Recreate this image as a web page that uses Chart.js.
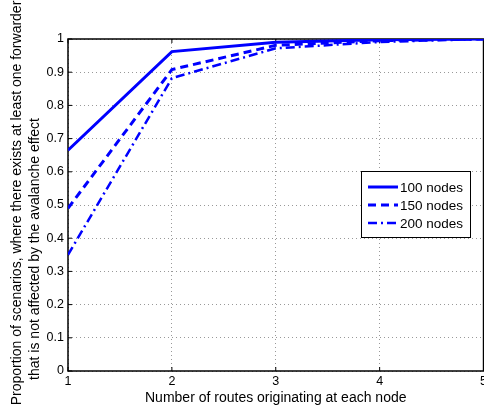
<!DOCTYPE html>
<html>
<head>
<meta charset="utf-8">
<script src="https://cdn.jsdelivr.net/npm/chart.js@4.4.0/dist/chart.umd.min.js"></script>
<style>
    html, body { margin: 0; padding: 0; background: #fff; overflow: hidden; }
    #wrap { width: 490px; height: 405px; }
</style>
</head>
<body>
<div id="wrap"><canvas id="myChart" width="490" height="405"></canvas></div>
<script>
// data
let routes = [1, 2, 3, 4, 5];
let nodes100 = [0.665, 0.962, 0.990, 0.998, 1.0];
let nodes150 = [0.490, 0.908, 0.981, 0.995, 1.0];
let nodes200 = [0.350, 0.882, 0.972, 0.991, 1.0];
let yTicks = [0, 0.1, 0.2, 0.3, 0.4, 0.5, 0.6, 0.7, 0.8, 0.9, 1];
let seriesNames = ['100 nodes', '150 nodes', '200 nodes'];
let yTitle = ['Proportion of scenarios, where there exists at least one forwarder',
              'that is not affected by the avalanche effect'];

const FONT = 'Liberation Sans, Arial, Helvetica, sans-serif';
const BLUE = '#0000ff';

function points(vals) {
    return routes.map((r, i) => ({ x: r, y: vals[i] }));
}

// black box around plot area + inward ticks
const boxPlugin = {
    id: 'box',
    beforeDatasetsDraw(chart) {
        const a = chart.chartArea;
        const c = chart.ctx;
        c.save();
        c.strokeStyle = '#000';
        c.lineWidth = 1.5;
        c.strokeRect(a.left, a.top, a.right - a.left, a.bottom - a.top);
        c.lineWidth = 1;
        const xs = chart.scales.x, ys = chart.scales.y;
        routes.forEach(r => {
            const px = xs.getPixelForValue(r);
            c.beginPath();
            c.moveTo(px, a.bottom); c.lineTo(px, a.bottom - 4);
            c.moveTo(px, a.top); c.lineTo(px, a.top + 4);
            c.stroke();
        });
        yTicks.forEach(v => {
            const py = ys.getPixelForValue(v);
            c.beginPath();
            c.moveTo(a.left, py); c.lineTo(a.left + 4, py);
            c.stroke();
        });
        c.restore();
    }
};

// y title, two lines rotated (overflows the canvas like the original)
const yTitlePlugin = {
    id: 'yTitle',
    afterDraw(chart) {
        const c = chart.ctx;
        c.save();
        c.font = '14px ' + FONT;
        c.fillStyle = '#000';
        c.textAlign = 'center';
        c.textBaseline = 'middle';
        c.translate(17, 203);
        c.rotate(-Math.PI / 2);
        c.fillText(yTitle[0], 0, 0);
        c.restore();
        c.save();
        c.font = '14px ' + FONT;
        c.fillStyle = '#000';
        c.textAlign = 'center';
        c.textBaseline = 'middle';
        c.translate(35, 249);
        c.rotate(-Math.PI / 2);
        c.fillText(yTitle[1], 0, 0);
        c.restore();
    }
};

// matlab-style legend box
const legendBox = {
    id: 'legendBox',
    afterDraw(chart) {
        const c = chart.ctx;
        const x0 = 361, y0 = 171, w = 109, h = 66;
        c.save();
        c.fillStyle = '#fff';
        c.fillRect(x0, y0, w, h);
        c.strokeStyle = '#000';
        c.lineWidth = 1;
        c.strokeRect(x0 + 0.5, y0 + 0.5, w, h);
        c.font = '13.5px ' + FONT;
        c.textBaseline = 'middle';
        c.fillStyle = '#000';
        chart.data.datasets.forEach((ds, i) => {
            const y = y0 + 16 + i * 18;
            c.strokeStyle = ds.borderColor;
            c.lineWidth = ds.borderWidth;
            c.setLineDash(ds.borderDash || []);
            c.beginPath();
            c.moveTo(x0 + 7, y);
            c.lineTo(x0 + 37, y);
            c.stroke();
            c.setLineDash([]);
            c.fillText(ds.label, x0 + 39, y + 1);
        });
        c.restore();
    }
};

var ctx = document.getElementById('myChart').getContext('2d');
var myChart = new Chart(ctx, {
    type: 'line',
    data: {
        datasets: [{
            label: seriesNames[0],
            data: points(nodes100),
            borderColor: BLUE,
            borderWidth: 3,
            pointRadius: 0,
            tension: 0
        }, {
            label: seriesNames[1],
            data: points(nodes150),
            borderColor: BLUE,
            borderWidth: 3,
            borderDash: [8, 5],
            pointRadius: 0,
            tension: 0
        }, {
            label: seriesNames[2],
            data: points(nodes200),
            borderColor: BLUE,
            borderWidth: 2.5,
            borderDash: [9, 4, 2, 4],
            pointRadius: 0,
            tension: 0
        }]
    },
    options: {
        responsive: false,
        animation: false,
        layout: { padding: { top: 39, right: 5, left: 0, bottom: 0 } },
        plugins: {
            legend: { display: false },
            tooltip: { enabled: false }
        },
        scales: {
            x: {
                type: 'linear',
                min: 1,
                max: 5,
                afterFit(s) { s.height = 34; },
                afterBuildTicks(s) { s.ticks = routes.map(v => ({ value: v })); },
                grid: {
                    color: '#999',
                    lineWidth: 1,
                    drawTicks: false
                },
                border: { display: false, dash: [1, 3] },
                ticks: {
                    color: '#000',
                    font: { family: FONT, size: 12.5 },
                    padding: 3,
                    maxRotation: 0
                },
                title: {
                    display: true,
                    text: 'Number of routes originating at each node',
                    color: '#000',
                    font: { family: FONT, size: 14, lineHeight: 1 },
                    padding: { top: 1, bottom: 0 }
                }
            },
            y: {
                min: 0,
                max: 1,
                afterFit(s) { s.width = 68; },
                afterBuildTicks(s) { s.ticks = yTicks.map(v => ({ value: v })); },
                grid: {
                    color: '#999',
                    lineWidth: 1,
                    drawTicks: false
                },
                border: { display: false, dash: [1, 3] },
                ticks: {
                    color: '#000',
                    font: { family: FONT, size: 12.5 },
                    padding: 4,
                    callback: v => String(v)
                }
            }
        }
    },
    plugins: [boxPlugin, yTitlePlugin, legendBox]
});
</script>
</body>
</html>
